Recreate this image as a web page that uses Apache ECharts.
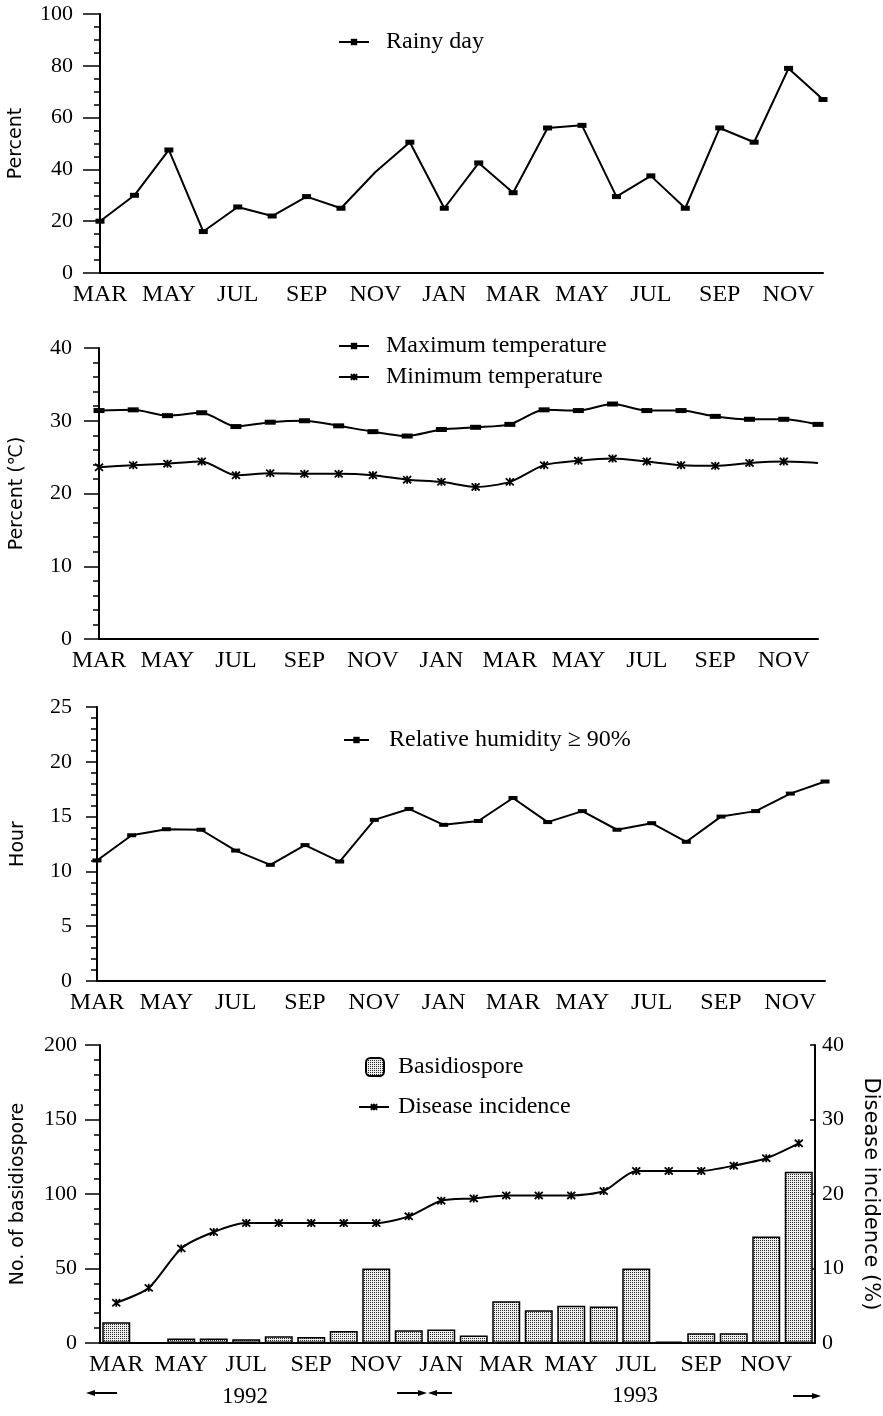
<!DOCTYPE html>
<html>
<head>
<meta charset="utf-8">
<script src="https://cdn.jsdelivr.net/npm/echarts@6/dist/echarts.min.js"></script>
<style>
  html, body { margin: 0; padding: 0; background: #fff; }
  #chart { width: 883px; height: 1416px; }
</style>
</head>
<body>
<div id="chart"></div>
<script>
// Monthly records, March 1992 – December 1993
const months = [
  'MAR 1992', 'APR 1992', 'MAY 1992', 'JUN 1992', 'JUL 1992', 'AUG 1992',
  'SEP 1992', 'OCT 1992', 'NOV 1992', 'DEC 1992', 'JAN 1993', 'FEB 1993',
  'MAR 1993', 'APR 1993', 'MAY 1993', 'JUN 1993', 'JUL 1993', 'AUG 1993',
  'SEP 1993', 'OCT 1993', 'NOV 1993', 'DEC 1993'
];

// Rainy days (% of days in the month)
const rainyDay = [20, 30, 47.5, 16, 25.5, 22, 29.5, 25, 39, 50.5, 25,
                  42.5, 31, 56, 57, 29.5, 37.5, 25, 56, 50.5, 79, 67];

// Air temperature (°C)
const maxTemp = [31.4, 31.5, 30.7, 31.1, 29.2, 29.8, 30.0, 29.3, 28.5, 27.9, 28.8,
                 29.1, 29.5, 31.5, 31.4, 32.3, 31.4, 31.4, 30.6, 30.2, 30.2, 29.5];
const minTemp = [23.6, 23.9, 24.1, 24.4, 22.5, 22.8, 22.7, 22.7, 22.5, 21.9, 21.6,
                 20.9, 21.6, 23.9, 24.5, 24.8, 24.4, 23.9, 23.8, 24.2, 24.4, 24.2];

// Hours per day with relative humidity >= 90%
const humidity = [11, 13.3, 13.85, 13.8, 11.9, 10.6, 12.4, 10.9, 14.7, 15.7, 14.25,
                  14.6, 16.7, 14.5, 15.5, 13.8, 14.4, 12.7, 15.0, 15.5, 17.1, 18.2];

// Spore trap counts and cumulative disease incidence (%)
const basidiospore = [14, 0.5, 3, 3, 2.5, 4.5, 4, 8, 50, 8.5, 9,
                      5, 28, 22, 25, 24.5, 50, 1, 6.5, 6.5, 71.5, 115];
const diseaseIncidence = [5.4, 7.4, 12.7, 14.9, 16.1, 16.1, 16.1, 16.1, 16.1, 17.0, 19.1,
                          19.4, 19.8, 19.8, 19.8, 20.4, 23.1, 23.1, 23.1, 23.8, 24.8, 26.8];

// Points plotted without a marker
const rainyNoMarker = [8];
const minTempNoMarker = [21];

const serif = '"Liberation Serif", "Times New Roman", serif';
const sans = '"DejaVu Sans", sans-serif';
const asterisk = 'path://M0,0L8,8M8,0L0,8M4,-0.5L4,8.5';

// Dotted fill used for the spore bars
function stipple() {
  const c = document.createElement('canvas');
  c.width = 2; c.height = 2;
  const g = c.getContext('2d');
  g.fillStyle = '#eeeeee';
  g.fillRect(0, 0, 2, 2);
  g.fillStyle = '#2a2a2a';
  g.fillRect(0, 0, 1, 1);
  return c;
}

function withoutMarker(values, idx) {
  return values.map((v, i) => idx.includes(i) ? { value: v, symbol: 'none' } : v);
}

function catAxis(gridIndex, boundaryGap) {
  return {
    type: 'category', gridIndex, data: months, boundaryGap,
    axisLine: { lineStyle: { color: '#000', width: 2 } },
    axisTick: { show: false },
    splitLine: { show: false },
    axisLabel: {
      interval: 1, margin: 10, color: '#000', fontFamily: serif, fontSize: 24,
      formatter: v => v.slice(0, 3)
    }
  };
}

function valAxis(gridIndex, max, interval, minorSplit, name, nameGap, labelMargin, tickLen) {
  return {
    type: 'value', gridIndex, min: 0, max, interval,
    name, nameLocation: 'middle', nameGap, nameRotate: 90,
    nameTextStyle: { fontFamily: sans, fontSize: 19, color: '#000' },
    axisLine: { show: true, lineStyle: { color: '#000', width: 2 } },
    axisTick: { show: true, length: tickLen, lineStyle: { color: '#000', width: 1.5 } },
    minorTick: { show: true, splitNumber: minorSplit, length: 6, lineStyle: { color: '#000', width: 1.5 } },
    splitLine: { show: false },
    minorSplitLine: { show: false },
    axisLabel: { margin: labelMargin, color: '#000', fontFamily: serif, fontSize: 22 }
  };
}

function legendBox(data, left, top, itemWidth, itemHeight, pad, extra) {
  return Object.assign({
    data, left, top, padding: 0, itemWidth, itemHeight, selectedMode: false,
    textStyle: { fontFamily: serif, fontSize: 24, color: '#000', padding: [0, 0, 0, pad] }
  }, extra || {});
}

const chart = echarts.init(document.getElementById('chart'), null, { renderer: 'canvas' });

chart.setOption({
  animation: false,
  backgroundColor: '#fff',
  grid: [
    { left: 100, top: 14, width: 723, height: 259, outerBoundsMode: 'none' },
    { left: 99, top: 348, width: 719, height: 291, outerBoundsMode: 'none' },
    { left: 97, top: 707, width: 728, height: 274, outerBoundsMode: 'none' },
    { left: 100, top: 1045, width: 715, height: 298, outerBoundsMode: 'none' }
  ],
  xAxis: [
    catAxis(0, false),
    catAxis(1, false),
    catAxis(2, false),
    catAxis(3, true)
  ],
  yAxis: [
    valAxis(0, 100, 20, 4, 'Percent', 74, 27, 17),
    valAxis(1, 40, 10, 5, 'Percent (\u2103)', 72, 27, 15),
    valAxis(2, 25, 5, 5, 'Hour', 69, 25, 11),
    valAxis(3, 200, 50, 5, 'No. of basidiospore', 72, 23, 15),
    {
      type: 'value', gridIndex: 3, position: 'right', min: 0, max: 40, interval: 10,
      name: 'Disease incidence (%)', nameLocation: 'middle', nameGap: 45, nameRotate: -90,
      nameTextStyle: { fontFamily: sans, fontSize: 21, color: '#000' },
      axisLine: { show: true, lineStyle: { color: '#000', width: 2 } },
      axisTick: { show: true, inside: true, length: 5, lineStyle: { color: '#000', width: 1.5 } },
      splitLine: { show: false },
      axisLabel: { margin: 7, color: '#000', fontFamily: serif, fontSize: 22 }
    }
  ],
  legend: [
    legendBox(['Rainy day'], 338, 30, 30, 8, 12),
    legendBox(['Maximum temperature', 'Minimum temperature'], 338, 334, 30, 8, 12,
              { orient: 'vertical', itemGap: 7 }),
    legendBox(['Relative humidity \u2265 90%'], 343, 728, 25, 8, 15),
    legendBox(['Basidiospore'], 365, 1055, 18, 18, 9),
    legendBox(['Disease incidence'], 358, 1095, 30, 8, 4)
  ],
  series: [
    {
      name: 'Rainy day', type: 'line', xAxisIndex: 0, yAxisIndex: 0,
      data: withoutMarker(rainyDay, rainyNoMarker),
      symbol: 'rect', symbolSize: [9, 5],
      lineStyle: { color: '#000', width: 2 },
      itemStyle: { color: '#000', borderWidth: 0 }
    },
    {
      name: 'Maximum temperature', type: 'line', xAxisIndex: 1, yAxisIndex: 1,
      data: maxTemp, smooth: 0.25,
      symbol: 'rect', symbolSize: [11, 5],
      lineStyle: { color: '#000', width: 2 },
      itemStyle: { color: '#000', borderWidth: 0 }
    },
    {
      name: 'Minimum temperature', type: 'line', xAxisIndex: 1, yAxisIndex: 1,
      data: withoutMarker(minTemp, minTempNoMarker), smooth: 0.25,
      symbol: asterisk, symbolSize: 8,
      lineStyle: { color: '#000', width: 2 },
      itemStyle: { color: '#000', borderColor: '#000', borderWidth: 1.8 }
    },
    {
      name: 'Relative humidity \u2265 90%', type: 'line', xAxisIndex: 2, yAxisIndex: 2,
      data: humidity,
      symbol: 'rect', symbolSize: [9, 4],
      lineStyle: { color: '#000', width: 2 },
      itemStyle: { color: '#000', borderWidth: 0 }
    },
    {
      name: 'Basidiospore', type: 'bar', xAxisIndex: 3, yAxisIndex: 3,
      data: basidiospore, barWidth: 28,
      itemStyle: { color: { image: stipple(), repeat: 'repeat' }, borderColor: '#000', borderWidth: 1.5 }
    },
    {
      name: 'Disease incidence', type: 'line', xAxisIndex: 3, yAxisIndex: 4,
      data: diseaseIncidence, smooth: 0.25,
      symbol: asterisk, symbolSize: 8,
      lineStyle: { color: '#000', width: 2 },
      itemStyle: { color: '#000', borderColor: '#000', borderWidth: 1.8 }
    }
  ],
  graphic: [
    { type: 'text', style: { text: '1992', x: 245, y: 1397, align: 'center', verticalAlign: 'middle', font: '23px ' + serif, fill: '#000' } },
    { type: 'text', style: { text: '1993', x: 635, y: 1396, align: 'center', verticalAlign: 'middle', font: '23px ' + serif, fill: '#000' } },
    // year span arrows
    { type: 'line', shape: { x1: 90, y1: 1393, x2: 117, y2: 1393 }, style: { stroke: '#000', lineWidth: 2 } },
    { type: 'polygon', shape: { points: [[86, 1393], [95, 1390], [95, 1396]] }, style: { fill: '#000' } },
    { type: 'line', shape: { x1: 397, y1: 1393, x2: 422, y2: 1393 }, style: { stroke: '#000', lineWidth: 2 } },
    { type: 'polygon', shape: { points: [[427, 1393], [418, 1390], [418, 1396]] }, style: { fill: '#000' } },
    { type: 'line', shape: { x1: 432, y1: 1393, x2: 452, y2: 1393 }, style: { stroke: '#000', lineWidth: 2 } },
    { type: 'polygon', shape: { points: [[428, 1393], [437, 1390], [437, 1396]] }, style: { fill: '#000' } },
    { type: 'line', shape: { x1: 793, y1: 1396, x2: 816, y2: 1396 }, style: { stroke: '#000', lineWidth: 2 } },
    { type: 'polygon', shape: { points: [[821, 1396], [812, 1393], [812, 1399]] }, style: { fill: '#000' } }
  ]
});
</script>
</body>
</html>
